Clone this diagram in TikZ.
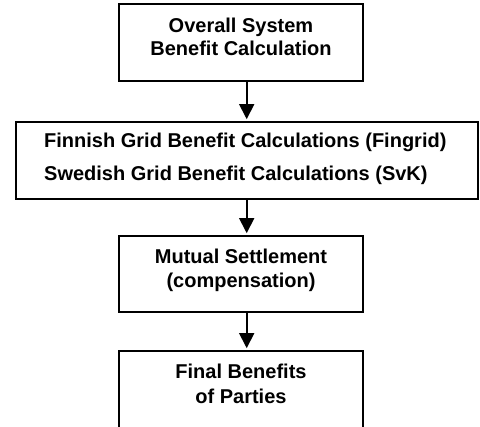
\documentclass[tikz,border=0pt]{standalone}
\usepackage{fontspec}
\setmainfont{Liberation Sans}
\usetikzlibrary{arrows.meta}
\begin{document}
\begin{tikzpicture}[x=1pt,y=-1pt,
  box/.style={draw=black,line width=1.7pt,rectangle,inner sep=0pt,anchor=center,minimum width=244pt},
  txt/.style={inner sep=0pt,anchor=base,font=\fontsize{20}{24}\selectfont\bfseries},
  txtl/.style={txt,anchor=base west},
  arr/.style={line width=1.7pt,-{Triangle[width=15pt,length=15pt]},shorten >=2pt}]
\useasboundingbox (0,0) rectangle (480,427);
\clip (0,0) rectangle (480,427);
\coordinate (ax) at (246.7,0);
% boxes
\node[box,minimum height=77pt] (b1) at (241,42.5) {};
\node[box,minimum width=462pt,minimum height=77pt] (b2) at (247,160.5) {};
\node[box,minimum height=76pt] (b3) at (241,274) {};
\node[box,minimum height=80pt] (b4) at (241,391) {};
% texts
\node[txt] (t1a) at (241,32.5) {Overall System};
\node[txt] (t1b) at (241,56) {Benefit Calculation};
\node[txtl] (t2a) at (44,148) {Finnish Grid Benefit Calculations (Fingrid)};
\node[txtl] (t2b) at (44,180.5) {Swedish Grid Benefit Calculations (SvK)};
\node[txt] (t3a) at (241,264) {Mutual Settlement};
\node[txt] (t3b) at (241,288) {(compensation)};
\node[txt] (t4a) at (241,378.7) {Final Benefits};
\node[txt] (t4b) at (241,403.5) {of Parties};
% arrows
\draw[arr] (b1.south -| ax) -- (b2.north -| ax);
\draw[arr] (b2.south -| ax) -- (b3.north -| ax);
\draw[arr] (b3.south -| ax) -- (b4.north -| ax);
\end{tikzpicture}
\end{document}
